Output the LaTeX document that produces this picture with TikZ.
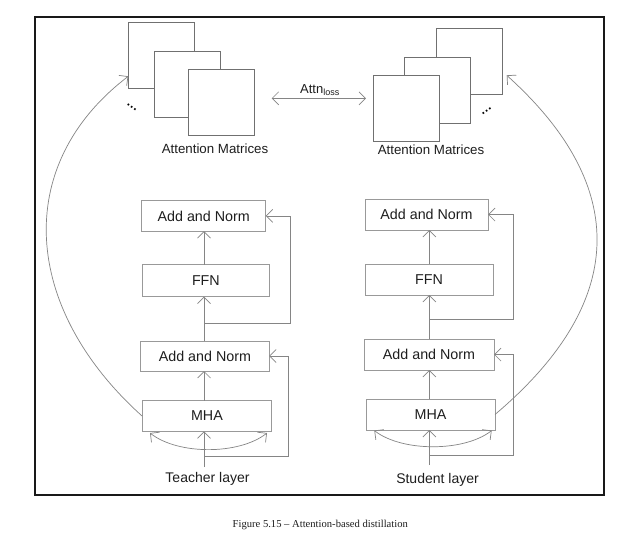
\documentclass[tikz,border=0pt]{standalone}
\usepackage{fontspec}
\setmainfont{Liberation Sans}
\newfontfamily\capfont[Ligatures=TeX]{Liberation Serif}
\usetikzlibrary{arrows.meta}
\definecolor{ln}{HTML}{858585}
\definecolor{bx}{HTML}{999999}
\definecolor{mx}{HTML}{707070}
\definecolor{tx}{HTML}{1E1E1E}
\tikzset{
  blk/.style={draw=bx, line width=0.8pt, fill=white, inner sep=0pt, outer sep=0pt, text=tx, font=\fontsize{14.3}{16}\selectfont},
  mat/.style={draw=mx, line width=0.8pt, fill=white, minimum width=66pt, minimum height=66pt, inner sep=0pt, outer sep=0pt},
  lbl/.style={text=tx, inner sep=0pt},
  dots/.style={text=black, inner sep=0pt, font=\fontsize{12.5}{14}\selectfont\bfseries},
  con/.style={draw=ln, line width=0.7pt},
  arr/.style={con, -{Straight Barb[length=6.5pt,width=13pt,line width=0.7pt]}},
  darr/.style={con, {Straight Barb[length=6.5pt,width=13pt,line width=0.7pt]}-{Straight Barb[length=6.5pt,width=13pt,line width=0.7pt]}},
}
\begin{document}
\begin{tikzpicture}[x=1pt,y=-1pt]
\useasboundingbox (0,0) rectangle (644,546);
\fill[white] (0,0) rectangle (644,546);
% frame
\draw[line width=1.8pt, draw=black!90] (35,17) rectangle (604,495);

% teacher matrices
\node[mat] (backT) at (161.3,55.3) {};
\node[mat] (midT) at (187.5,84.2) {};
\node[mat] (frontT) at (221.2,102) {};
\node[dots, rotate=-35] (dotsT) at (131.8,107.5) {…};
\node[lbl, font=\fontsize{13.3}{15}\selectfont] (capT) at (215,149) {Attention Matrices};

% student matrices
\node[mat] (backS) at (469.7,61.3) {};
\node[mat] (midS) at (437.5,90.3) {};
\node[mat] (frontS) at (406.3,108.3) {};
\node[dots, rotate=35] (dotsS) at (486.7,111) {…};
\node[lbl, font=\fontsize{13.3}{15}\selectfont] (capS) at (431,150) {Attention Matrices};

% attention loss
\coordinate (la) at (271.7,98.3);
\coordinate (lb) at (366,98.3);
\draw[darr] (la) -- (lb);
\node[lbl, font=\fontsize{13}{15}\selectfont] (loss) at (320,90) {Attn\textsubscript{\fontsize{9}{10}\selectfont loss}};

% teacher layer
\node[blk, minimum width=124pt, minimum height=30.3pt] (an2T) at (203.7,215.9) {Add and Norm};
\node[blk, minimum width=126.3pt, minimum height=32pt] (ffnT) at (205.9,280.7) {FFN};
\node[blk, minimum width=128.3pt, minimum height=30pt] (an1T) at (204.9,356) {Add and Norm};
\node[blk, minimum width=129.7pt, minimum height=30.6pt] (mhaT) at (206.9,416) {MHA};
\node[lbl, font=\fontsize{14}{16}\selectfont] (layT) at (207.5,479) {Teacher layer};
\coordinate (colT) at (204,0);
\coordinate (inT) at (204,467);
\coordinate (jT1) at (204,323.3);
\coordinate (rT1) at (290,323.3);
\coordinate (jT2) at (204,456.7);
\coordinate (rT2) at (288.3,456.7);
\coordinate (aT1) at (150,433);
\coordinate (aT2) at (267,433);
\draw[arr] (inT) -- (inT |- mhaT.south);
\draw[arr] (mhaT.north -| colT) -- (an1T.south -| colT);
\draw[arr] (an1T.north -| colT) -- (ffnT.south -| colT);
\draw[arr] (ffnT.north -| colT) -- (an2T.south -| colT);
\draw[arr] (jT1) -- (rT1) |- (an2T.east);
\draw[arr] (jT2) -- (rT2) |- (an1T.east);
\draw[darr] (aT1) .. controls (178,455) and (239,455) .. (aT2);
\draw[arr] (mhaT.west) .. controls (22,308) and (12,165) .. ([yshift=12pt]backT.south west);

% student layer
\node[blk, minimum width=123pt, minimum height=31pt] (an2S) at (426.5,214.5) {Add and Norm};
\node[blk, minimum width=128pt, minimum height=31pt] (ffnS) at (429,279.5) {FFN};
\node[blk, minimum width=130pt, minimum height=31pt] (an1S) at (429,354.5) {Add and Norm};
\node[blk, minimum width=129pt, minimum height=31pt] (mhaS) at (430.5,414.5) {MHA};
\node[lbl, font=\fontsize{14}{16}\selectfont] (layS) at (437.5,480) {Student layer};
\coordinate (colS) at (429.3,0);
\coordinate (inS) at (429.3,465);
\coordinate (jS1) at (429.3,319);
\coordinate (rS1) at (513.3,319);
\coordinate (jS2) at (429.3,455.7);
\coordinate (rS2) at (513.3,455.7);
\coordinate (aS1) at (374.3,430.5);
\coordinate (aS2) at (491.7,430.5);
\draw[arr] (inS) -- (inS |- mhaS.south);
\draw[arr] (mhaS.north -| colS) -- (an1S.south -| colS);
\draw[arr] (an1S.north -| colS) -- (ffnS.south -| colS);
\draw[arr] (ffnS.north -| colS) -- (an2S.south -| colS);
\draw[arr] (jS1) -- (rS1) |- (an2S.east);
\draw[arr] (jS2) -- (rS2) |- (an1S.east);
\draw[darr] (aS1) .. controls (402,452) and (464,452) .. (aS2);
\draw[arr] (mhaS.east) .. controls (635,296) and (623,180) .. ([xshift=4pt,yshift=19pt]backS.south east);

% caption
\node[lbl, font=\capfont\fontsize{10.6}{12}\selectfont] (cap) at (320.3,525) {Figure 5.15 – Attention-based distillation};
\end{tikzpicture}
\end{document}
